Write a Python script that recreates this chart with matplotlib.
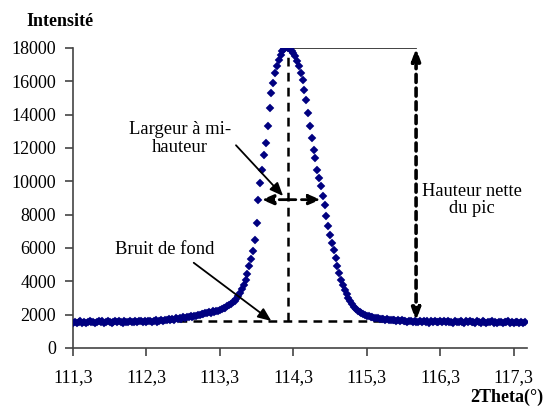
import matplotlib
matplotlib.use("Agg")
import matplotlib.pyplot as plt

plt.rcParams['font.family'] = ['Liberation Serif', 'DejaVu Serif']

# background on the low-angle side
theta_left = [111.300, 111.325, 111.350, 111.375, 111.400, 111.425, 111.450, 111.475, 111.500, 111.525,
              111.550, 111.575, 111.600, 111.625, 111.650, 111.675, 111.700, 111.725, 111.750, 111.775,
              111.800, 111.825, 111.850, 111.875, 111.900, 111.925, 111.950, 111.975, 112.000, 112.025,
              112.050, 112.075, 112.100, 112.125, 112.150, 112.175, 112.200, 112.225, 112.250, 112.275,
              112.300, 112.325, 112.350, 112.375, 112.400, 112.425, 112.450, 112.475, 112.500, 112.525,
              112.550, 112.575, 112.600, 112.625, 112.650, 112.675, 112.700, 112.725, 112.750, 112.775,
              112.800, 112.825, 112.850, 112.875, 112.900, 112.925, 112.950, 112.975, 113.000]
int_left = [1520, 1580, 1490, 1550, 1610, 1530, 1570, 1500, 1560, 1620,
            1540, 1590, 1510, 1570, 1630, 1550, 1600, 1520, 1580, 1640,
            1560, 1510, 1590, 1620, 1540, 1600, 1570, 1530, 1610, 1580,
            1540, 1620, 1590, 1560, 1630, 1550, 1600, 1640, 1570, 1610,
            1580, 1650, 1600, 1560, 1630, 1660, 1590, 1640, 1680, 1620,
            1700, 1660, 1720, 1690, 1750, 1710, 1780, 1740, 1810, 1770,
            1840, 1800, 1870, 1850, 1910, 1880, 1950, 1930, 1990]

# the peak
theta_peak = [113.025, 113.050, 113.075, 113.100, 113.125, 113.150, 113.175, 113.200, 113.225, 113.250,
              113.275, 113.300, 113.325, 113.350, 113.375, 113.400, 113.425, 113.450, 113.475, 113.500,
              113.525, 113.550, 113.575, 113.600, 113.625, 113.650, 113.675, 113.700, 113.725, 113.750,
              113.775, 113.800, 113.825, 113.850, 113.875, 113.900, 113.925, 113.950, 113.975, 114.000,
              114.025, 114.050, 114.075, 114.100, 114.125, 114.150, 114.175, 114.200, 114.225, 114.250,
              114.275, 114.300, 114.325, 114.350, 114.375, 114.400, 114.425, 114.450, 114.475, 114.500,
              114.525, 114.550, 114.575, 114.600, 114.625, 114.650, 114.675, 114.700, 114.725, 114.750,
              114.775, 114.800, 114.825, 114.850, 114.875, 114.900, 114.925, 114.950, 114.975, 115.000,
              115.025, 115.050, 115.075, 115.100, 115.125, 115.150, 115.175, 115.200, 115.225, 115.250,
              115.275, 115.300, 115.325, 115.350, 115.375, 115.400, 115.425, 115.450, 115.475, 115.500]
int_peak = [2010, 2060, 2040, 2100, 2080, 2150, 2130, 2200, 2190, 2250,
            2240, 2310, 2330, 2400, 2430, 2510, 2560, 2650, 2740, 2850,
            2970, 3120, 3300, 3520, 3780, 4080, 4450, 4900, 5350, 5800,
            6500, 7500, 8900, 9900, 10700, 11600, 12300, 13300, 14400, 15300,
            15900, 16500, 16900, 17300, 17600, 17850, 17950, 18050, 18000, 17950,
            17800, 17700, 17500, 17200, 16900, 16500, 16100, 15500, 14900, 14100,
            13300, 12600, 11900, 11400, 10700, 10200, 9700, 9100, 8600, 7900,
            7300, 6800, 6300, 5900, 5400, 4900, 4500, 4100, 3800, 3500,
            3250, 3000, 2800, 2620, 2480, 2360, 2250, 2170, 2100, 2040,
            1990, 1950, 1910, 1880, 1850, 1820, 1800, 1780, 1760, 1740]

# background on the high-angle side
theta_right = [115.525, 115.550, 115.575, 115.600, 115.625, 115.650, 115.675, 115.700, 115.725, 115.750,
               115.775, 115.800, 115.825, 115.850, 115.875, 115.900, 115.925, 115.950, 115.975, 116.000,
               116.025, 116.050, 116.075, 116.100, 116.125, 116.150, 116.175, 116.200, 116.225, 116.250,
               116.275, 116.300, 116.325, 116.350, 116.375, 116.400, 116.425, 116.450, 116.475, 116.500,
               116.525, 116.550, 116.575, 116.600, 116.625, 116.650, 116.675, 116.700, 116.725, 116.750,
               116.775, 116.800, 116.825, 116.850, 116.875, 116.900, 116.925, 116.950, 116.975, 117.000,
               117.025, 117.050, 117.075, 117.100, 117.125, 117.150, 117.175, 117.200, 117.225, 117.250,
               117.275, 117.300, 117.325, 117.350, 117.375, 117.400, 117.425, 117.450]
int_right = [1730, 1700, 1720, 1680, 1700, 1660, 1690, 1640, 1670, 1620,
             1660, 1610, 1650, 1590, 1640, 1600, 1570, 1630, 1590, 1550,
             1620, 1580, 1640, 1560, 1600, 1530, 1610, 1570, 1630, 1550,
             1590, 1620, 1540, 1600, 1570, 1630, 1550, 1590, 1520, 1610,
             1570, 1540, 1620, 1580, 1530, 1600, 1560, 1620, 1540, 1580,
             1510, 1600, 1560, 1530, 1610, 1570, 1520, 1590, 1550, 1600,
             1530, 1570, 1510, 1590, 1550, 1520, 1580, 1540, 1600, 1530,
             1560, 1510, 1570, 1540, 1500, 1560, 1530, 1550]

# construction values
background = 1620
peak_pos = 114.22
peak_max = 18000
half_level = 8900
half_left, half_right = 113.87, 114.67
height_pos = 115.97

xticks = [111.3, 112.3, 113.3, 114.3, 115.3, 116.3, 117.3]
xticklabels = ['111,3', '112,3', '113,3', '114,3', '115,3', '116,3', '117,3']
yticks = list(range(0, 18001, 2000))

fig = plt.figure(figsize=(5.44, 4.09), dpi=100)
ax = fig.add_axes([73 / 544, 1 - 348 / 409, 454 / 544, 300 / 409])

navy = '#000080'
for tx, iy in [(theta_left, int_left), (theta_peak, int_peak), (theta_right, int_right)]:
    ax.plot(tx, iy, linestyle='none', marker='D', ms=4, color=navy, mec=navy, mew=0.3, zorder=3)

dash = dict(color='black', lw=1.8, linestyle=(0, (3.5, 2.5)))
ax.plot([111.3, 117.48], [background, background], zorder=2, **dash)
ax.plot([peak_pos, peak_pos], [background, peak_max], zorder=2, **dash)
ax.plot([peak_pos, height_pos], [peak_max, peak_max], color='#333333', lw=1.3, zorder=2)

# double arrows
ax.annotate('', xy=(half_left, half_level), xytext=(peak_pos, half_level),
            arrowprops=dict(arrowstyle='-|>,head_length=0.7,head_width=0.3', color='black', lw=2,
                            linestyle=(0, (3, 2)), shrinkA=0, shrinkB=0), zorder=4)
ax.annotate('', xy=(half_right, half_level), xytext=(peak_pos, half_level),
            arrowprops=dict(arrowstyle='-|>,head_length=0.7,head_width=0.3', color='black', lw=2,
                            linestyle=(0, (3, 2)), shrinkA=0, shrinkB=0), zorder=4)
ax.annotate('', xy=(height_pos, peak_max), xytext=(height_pos, background),
            arrowprops=dict(arrowstyle='<|-|>,head_length=0.7,head_width=0.25', color='black', lw=2.6,
                            linestyle=(0, (2.2, 1.6)), shrinkA=0, shrinkB=0), zorder=4)

# labels with pointers
ax.annotate('Largeur à mi-\nhauteur', xy=(114.16, 9120), xytext=(112.76, 12570),
            ha='center', va='center', fontsize=13.4, linespacing=1.05,
            arrowprops=dict(arrowstyle='-|>,head_length=0.6,head_width=0.25', color='black', lw=1.3,
                            relpos=(1.0, 0.45), shrinkA=2, shrinkB=0))
ax.annotate('Bruit de fond', xy=(114.0, background), xytext=(112.55, 5940),
            ha='center', va='center', fontsize=13.4,
            arrowprops=dict(arrowstyle='-|>,head_length=0.6,head_width=0.25', color='black', lw=1.3,
                            relpos=(0.72, 0.0), shrinkA=3, shrinkB=0))
ax.text(116.73, 8880, 'Hauteur nette\ndu pic', ha='center', va='center', fontsize=13.2, linespacing=1.05)

ax.set_xlim(111.3, 117.48)
ax.set_ylim(0, 18000)
ax.set_xticks(xticks)
ax.set_xticklabels(xticklabels)
ax.set_yticks(yticks)
ax.tick_params(axis='both', labelsize=13, length=6, width=1.2, color='#444444', direction='out')
ax.tick_params(axis='y', pad=6)
ax.tick_params(axis='x', pad=9)
for s in ['top', 'right']:
    ax.spines[s].set_visible(False)
for s in ['left', 'bottom']:
    ax.spines[s].set_color('#444444')
    ax.spines[s].set_linewidth(1.2)

fig.text(26 / 544, 1 - 21 / 409, 'Intensité', ha='left', va='center', fontsize=13, fontweight='bold')
fig.text(543 / 544, 1 - 397 / 409, '2Theta(°)', ha='right', va='center', fontsize=13, fontweight='bold')

fig.savefig('out.png', dpi=100)
